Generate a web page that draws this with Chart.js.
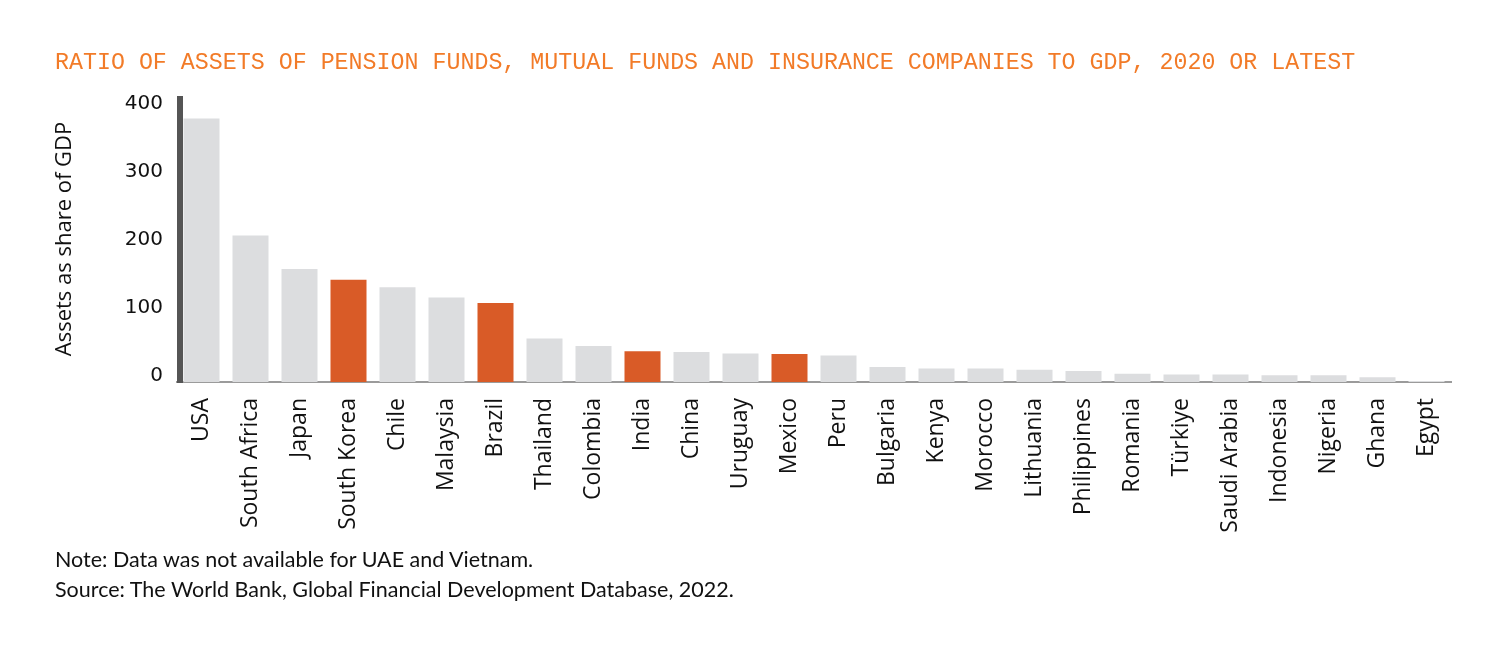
<!DOCTYPE html>
<html>
<head>
<meta charset="utf-8">
<script src="https://cdn.jsdelivr.net/npm/chart.js@4"></script>
<style>
  html, body { margin: 0; padding: 0; background: #fff; }
  #wrap { position: relative; width: 1500px; height: 650px; }
  canvas { position: absolute; left: 0; top: 0; }
  #title { position: absolute; left: 55px; top: 48px; font-family: "Liberation Mono", monospace; font-size: 23.3px; color: #F27B28; white-space: nowrap; line-height: 30px; }
  .note { position: absolute; left: 55px; font-family: Lato, sans-serif; font-size: 21.5px; color: #111; white-space: nowrap; line-height: 26px; }
</style>
</head>
<body>
<div id="wrap">
  <canvas id="c" width="1500" height="650"></canvas>
  <div id="title">RATIO OF ASSETS OF PENSION FUNDS, MUTUAL FUNDS AND INSURANCE COMPANIES TO GDP, 2020 OR LATEST</div>
  <div class="note" style="top:546px">Note: Data was not available for UAE and Vietnam.</div>
  <div class="note" style="top:576px">Source: The World Bank, Global Financial Development Database, 2022.</div>
</div>
<script>
const categories = ["USA","South Africa","Japan","South Korea","Chile","Malaysia","Brazil","Thailand","Colombia","India","China","Uruguay","Mexico","Peru","Bulgaria","Kenya","Morocco","Lithuania","Philippines","Romania","Türkiye","Saudi Arabia","Indonesia","Nigeria","Ghana","Egypt"];
const values = [387, 215, 166, 150, 139, 124, 116, 64, 53, 45, 44, 42, 41, 39, 22, 20, 20, 18, 16, 12, 11, 11, 10, 10, 7, 1.5];
const highlighted = ["South Korea", "Brazil", "India", "Mexico"];
const yTicks = [0, 100, 200, 300, 400];
const yAxisTitle = "Assets as share of GDP";

const grey = "#DCDDDF";
const orange = "#D95B27";

const leftAxisLine = {
  id: "leftAxisLine",
  afterDatasetsDraw(chart) {
    const a = chart.chartArea;
    const ctx = chart.ctx;
    ctx.save();
    ctx.fillStyle = "#555555";
    ctx.fillRect(a.left, a.top, 6, a.bottom - a.top + 1);
    ctx.restore();
  }
};

new Chart(document.getElementById("c"), {
  type: "bar",
  data: {
    labels: categories,
    datasets: [{
      data: values,
      backgroundColor: categories.map(c => highlighted.includes(c) ? orange : grey),
      barPercentage: 0.735,
      categoryPercentage: 1.0,
      borderWidth: 0
    }]
  },
  options: {
    responsive: false,
    animation: false,
    devicePixelRatio: 1,
    layout: { padding: { left: 40, top: 96, right: 49, bottom: 108 } },
    plugins: { legend: { display: false }, tooltip: { enabled: false } },
    scales: {
      x: {
        grid: { display: false, drawTicks: false },
        border: { display: true, color: "#9B9B9B", width: 2 },
        ticks: {
          autoSkip: false, minRotation: 90, maxRotation: 90, padding: 16,
          color: "#111", font: { family: "Open Sans", size: 23 }
        },
        afterFit(scale) { scale.height = 160; }
      },
      y: {
        min: 0, max: 420,
        afterBuildTicks(scale) { scale.ticks = yTicks.map(v => ({ value: v })); },
        grid: { display: false, drawTicks: false },
        border: { display: false },
        ticks: {
          padding: 14, labelOffset: -6,
          color: "#111", font: { family: "DejaVu Sans", size: 20 }
        },
        title: {
          display: true, text: yAxisTitle, color: "#111",
          font: { family: "Open Sans", size: 22 }, padding: { top: 12, bottom: 0 }
        },
        afterFit(scale) { scale.width = 137; }
      }
    }
  },
  plugins: [leftAxisLine]
});
</script>
</body>
</html>
